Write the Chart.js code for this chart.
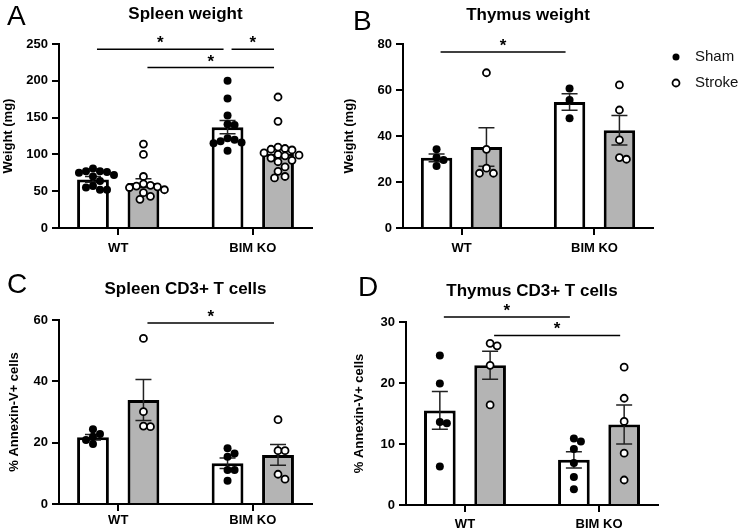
<!DOCTYPE html>
<html>
<head>
<meta charset="utf-8">
<script src="https://cdn.jsdelivr.net/npm/chart.js@4/dist/chart.umd.min.js"></script>
<style>
  body { margin: 0; background: #fff; }
  #wrap { position: relative; width: 738px; height: 531px; }
  canvas { position: absolute; }
</style>
</head>
<body>
<div id="wrap">
  <canvas id="panelA" width="330" height="265" style="left:0;top:0"></canvas>
  <canvas id="panelB" width="408" height="265" style="left:330px;top:0"></canvas>
  <canvas id="panelC" width="330" height="266" style="left:0;top:265px"></canvas>
  <canvas id="panelD" width="408" height="266" style="left:330px;top:265px"></canvas>
</div>
<script>
const groups = ['WT', 'BIM KO'];
const seriesNames = ['Sham', 'Stroke'];

// A - spleen weight (mg)
const spleenWtSham = [66, 137];
const spleenWtStroke = [61, 101];
const spleenWtShamSem = [4, 9];
const spleenWtStrokeSem = [6, 6];
const spleenWtShamPts = [[81, 77, 77, 76, 75, 72, 70, 64, 57, 55, 52, 52], [200, 176, 153, 141, 140, 122, 120, 118, 116, 115, 105]];
const spleenWtStrokePts = [[114, 100, 70, 60, 58, 57, 56, 55, 52, 48, 43, 39], [178, 145, 110, 108, 107, 106, 102, 100, 99, 98, 95, 92, 90, 83, 77, 70, 68]];
const spleenWtSig = [[0, 2, 243], [2, 3, 243], [1, 3, 218]];

// B - thymus weight (mg)
const thymusWtSham = [30.5, 54.8];
const thymusWtStroke = [35.2, 42.5];
const thymusWtShamSem = [1.7, 3.6];
const thymusWtStrokeSem = [8.4, 6.4];
const thymusWtShamPts = [[34.2, 30.7, 29.6, 27], [60.7, 55.7, 47.7]];
const thymusWtStrokePts = [[67.5, 34.2, 26, 23.8, 23.8], [62.2, 51.3, 38.3, 30.6, 29.9]];
const thymusWtSig = [[0, 2, 76.5]];

// C - spleen CD3+ T cells, % Annexin-V+
const spleenTSham = [21.8, 13.3];
const spleenTStroke = [33.9, 16];
const spleenTShamSem = [0.9, 1.7];
const spleenTStrokeSem = [6.7, 3.4];
const spleenTShamPts = [[24.4, 22.8, 21.9, 20.9, 19.6], [18.2, 16.5, 15.4, 11.1, 11.1, 7.6]];
const spleenTStrokePts = [[54, 30.1, 25.4, 25.2], [27.5, 17.4, 17.4, 9.7, 8.1]];
const spleenTSig = [[1, 3, 59]];

// D - thymus CD3+ T cells, % Annexin-V+
const thymusTSham = [15.5, 7.4];
const thymusTStroke = [22.9, 13.2];
const thymusTShamSem = [3.1, 1.35];
const thymusTStrokeSem = [2.3, 3.2];
const thymusTShamPts = [[24.5, 19.9, 13.6, 13.4, 6.3], [10.9, 10.4, 9.2, 6.9, 4.6, 2.6]];
const thymusTStrokePts = [[26.5, 26.1, 22.9, 16.4], [22.6, 17.5, 13.7, 8.5, 4.1]];
const thymusTSig = [[0, 2, 30.8], [1, 3, 27.8]];

Chart.defaults.font.family = '"Liberation Sans", Arial, sans-serif';
Chart.defaults.color = '#000';

// spread points of one column sideways so they don't sit on top of each other
function swarm(ys, minDist) {
  const out = [];
  const step = minDist / 2;
  ys.slice().sort((a, b) => a - b).forEach(py => {
    for (let k = 0; k < 30; k++) {
      const dx = (k % 2 ? 1 : -1) * Math.ceil(k / 2) * step;
      if (out.every(p => Math.hypot(p.dx - dx, p.y - py) >= minDist)) {
        out.push({ dx: dx, y: py });
        break;
      }
    }
  });
  return out;
}

const extras = {
  id: 'extras',
  afterDatasetsDraw(chart, args, opts) {
    const ctx = chart.ctx;
    const y = chart.scales.y;
    const barX = k => chart.getDatasetMeta(k % 2).data[Math.floor(k / 2)].x;
    ctx.save();

    // error bars (mean +/- SEM)
    opts.sem.forEach((sems, d) => {
      chart.getDatasetMeta(d).data.forEach((bar, i) => {
        const m = chart.data.datasets[d].data[i].y;
        const top = y.getPixelForValue(m + sems[i]);
        const bot = y.getPixelForValue(m - sems[i]);
        ctx.strokeStyle = '#222';
        ctx.lineWidth = 1.5;
        ctx.beginPath();
        ctx.moveTo(bar.x, top); ctx.lineTo(bar.x, bot);
        ctx.moveTo(bar.x - 8, top); ctx.lineTo(bar.x + 8, top);
        ctx.moveTo(bar.x - 8, bot); ctx.lineTo(bar.x + 8, bot);
        ctx.stroke();
      });
    });

    // individual animals
    opts.points.forEach((cols, d) => {
      chart.getDatasetMeta(d).data.forEach((bar, i) => {
        swarm(cols[i].map(v => y.getPixelForValue(v)), 7).forEach(p => {
          ctx.beginPath();
          if (d === 0) {
            ctx.arc(bar.x + p.dx, p.y, 4, 0, Math.PI * 2);
            ctx.fillStyle = '#000';
            ctx.fill();
          } else {
            ctx.arc(bar.x + p.dx, p.y, 3.5, 0, Math.PI * 2);
            ctx.fillStyle = '#fff';
            ctx.fill();
            ctx.lineWidth = 1.8;
            ctx.strokeStyle = '#000';
            ctx.stroke();
          }
        });
      });
    });

    // significance lines
    opts.sig.forEach(([a, b, v]) => {
      const xa = barX(a) + 4, xb = barX(b) - 4;
      const py = y.getPixelForValue(v);
      ctx.strokeStyle = '#000';
      ctx.lineWidth = 1.5;
      ctx.beginPath();
      ctx.moveTo(xa, py); ctx.lineTo(xb, py);
      ctx.stroke();
      ctx.fillStyle = '#000';
      ctx.font = 'bold 17px "Liberation Sans", Arial';
      ctx.textAlign = 'center';
      ctx.textBaseline = 'alphabetic';
      ctx.fillText('*', (xa + xb) / 2, py - 1);
    });

    // panel letter
    ctx.fillStyle = '#000';
    ctx.font = '28px "Liberation Sans", Arial';
    ctx.textAlign = 'left';
    ctx.textBaseline = 'alphabetic';
    ctx.fillText(opts.letter.text, opts.letter.x, opts.letter.y);

    // legend
    if (opts.legend) {
      const lg = opts.legend;
      seriesNames.forEach((name, d) => {
        const ly = lg.y + d * lg.gap;
        ctx.beginPath();
        if (d === 0) {
          ctx.arc(lg.x, ly, 3.5, 0, Math.PI * 2);
          ctx.fillStyle = '#000';
          ctx.fill();
        } else {
          ctx.arc(lg.x, ly, 3.5, 0, Math.PI * 2);
          ctx.lineWidth = 1.8;
          ctx.strokeStyle = '#000';
          ctx.stroke();
        }
        ctx.fillStyle = '#111';
        ctx.font = '15px "Liberation Sans", Arial';
        ctx.textBaseline = 'middle';
        ctx.fillText(name, lg.x + 19, ly);
      });
    }
    ctx.restore();
  }
};

function panel(id, o) {
  const axisGrid = { drawOnChartArea: false, offset: false, color: '#000', lineWidth: 2, tickLength: 7 };
  const bold13 = { size: 13, weight: 'bold' };
  return new Chart(document.getElementById(id), {
    type: 'bar',
    data: {
      datasets: [
        {
          label: seriesNames[0],
          data: o.sham.map((v, i) => ({ x: i, y: v })),
          backgroundColor: '#fff',
          borderColor: '#000',
          borderWidth: 3,
          categoryPercentage: 0.75,
          barPercentage: 0.63
        },
        {
          label: seriesNames[1],
          data: o.stroke.map((v, i) => ({ x: i, y: v })),
          backgroundColor: '#b4b4b4',
          borderColor: '#000',
          borderWidth: 3,
          categoryPercentage: 0.75,
          barPercentage: 0.63
        }
      ]
    },
    options: {
      responsive: false,
      animation: false,
      layout: { padding: { left: 0, right: o.padRight, top: 0, bottom: 0 } },
      plugins: {
        legend: { display: false },
        tooltip: { enabled: false },
        title: {
          display: true,
          text: o.title,
          fullSize: false,
          font: { size: 17, weight: 'bold' },
          padding: o.titlePad
        },
        extras: {
          sem: [o.shamSem, o.strokeSem],
          points: [o.shamPts, o.strokePts],
          sig: o.sig,
          letter: o.letter,
          legend: o.legend
        }
      },
      scales: {
        x: {
          type: 'linear',
          offset: false,
          min: -0.44,
          max: 1.44,
          grid: axisGrid,
          border: { color: '#000', width: 2 },
          ticks: {
            stepSize: 1,
            includeBounds: false,
            autoSkip: false,
            maxRotation: 0,
            padding: o.xPad,
            font: bold13,
            callback: v => groups[v] ?? ''
          },
          afterFit: s => { s.height = o.xH; }
        },
        y: {
          min: 0,
          max: o.max,
          grid: axisGrid,
          border: { color: '#000', width: 2 },
          ticks: { stepSize: o.step, padding: 4, font: bold13 },
          title: { display: true, text: o.yTitle, font: bold13, padding: { top: o.yTitlePad, bottom: 0 } },
          afterFit: s => { s.width = o.yW; }
        }
      }
    },
    plugins: [extras]
  });
}

panel('panelA', {
  title: 'Spleen weight', yTitle: 'Weight (mg)', max: 250, step: 50,
  sham: spleenWtSham, stroke: spleenWtStroke, shamSem: spleenWtShamSem, strokeSem: spleenWtStrokeSem,
  shamPts: spleenWtShamPts, strokePts: spleenWtStrokePts, sig: spleenWtSig,
  yW: 59, padRight: 18, xH: 37, xPad: 6, yTitlePad: 1,
  titlePad: { top: 4, bottom: 19.6 },
  letter: { text: 'A', x: 7, y: 25 }
});

panel('panelB', {
  title: 'Thymus weight', yTitle: 'Weight (mg)', max: 80, step: 20,
  sham: thymusWtSham, stroke: thymusWtStroke, shamSem: thymusWtShamSem, strokeSem: thymusWtStrokeSem,
  shamPts: thymusWtShamPts, strokePts: thymusWtStrokePts, sig: thymusWtSig,
  yW: 73, padRight: 85, xH: 37, xPad: 6, yTitlePad: 12,
  titlePad: { top: 5.6, bottom: 18 },
  letter: { text: 'B', x: 23, y: 30 },
  legend: { x: 346, y: 57, gap: 26 }
});

panel('panelC', {
  title: 'Spleen CD3+ T cells', yTitle: '% Annexin-V+ cells', max: 60, step: 20,
  sham: spleenTSham, stroke: spleenTStroke, shamSem: spleenTShamSem, strokeSem: spleenTStrokeSem,
  shamPts: spleenTShamPts, strokePts: spleenTStrokePts, sig: spleenTSig,
  yW: 59, padRight: 18, xH: 27, xPad: 2, yTitlePad: 6.7,
  titlePad: { top: 14, bottom: 20.6 },
  letter: { text: 'C', x: 7, y: 28 }
});

panel('panelD', {
  title: 'Thymus CD3+ T cells', yTitle: '% Annexin-V+ cells', max: 30, step: 10,
  sham: thymusTSham, stroke: thymusTStroke, shamSem: thymusTShamSem, strokeSem: thymusTStrokeSem,
  shamPts: thymusTShamPts, strokePts: thymusTStrokePts, sig: thymusTSig,
  yW: 76, padRight: 80, xH: 26, xPad: 5, yTitlePad: 22,
  titlePad: { top: 16, bottom: 20.6 },
  letter: { text: 'D', x: 28, y: 31 }
});
</script>
</body>
</html>
